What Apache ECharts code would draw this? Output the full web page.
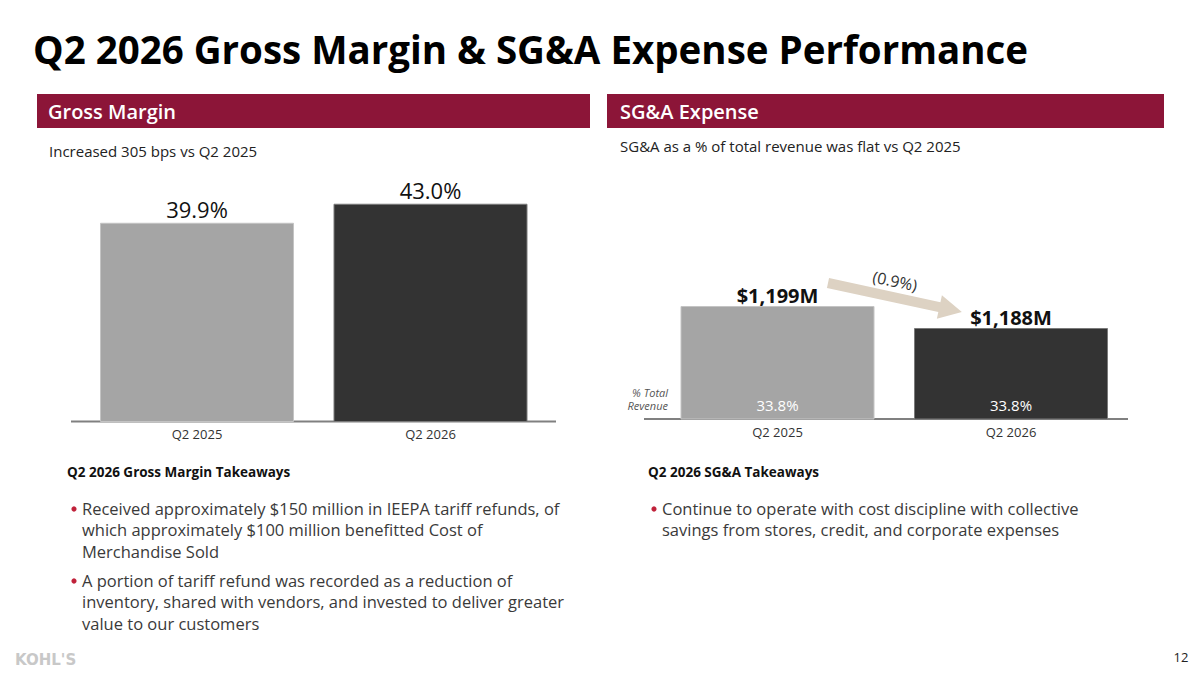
<!DOCTYPE html>
<html>
<head>
<meta charset="utf-8">
<title>Q2 2026 Gross Margin & SG&A Expense Performance</title>
<script src="https://cdn.jsdelivr.net/npm/echarts@6/dist/echarts.min.js"></script>
<style>
  html, body { margin: 0; padding: 0; background: #fff; }
  #slide { width: 1200px; height: 675px; }
</style>
</head>
<body>
<div id="slide"></div>
<script>
  // ---- data ----
  var categories = ['Q2 2025', 'Q2 2026']
  var grossMargin = [39.9, 43.0]          // % of revenue
  var sgaExpense = [1199, 1188]           // $M
  var sgaPctRevenue = [33.8, 33.8]        // % total revenue
  var sgaChange = '(0.9%)'

  var gmTakeaways = [
    ['Received approximately $150 million in IEEPA tariff refunds, of', 'which approximately $100 million benefitted Cost of', 'Merchandise Sold'],
    ['A portion of tariff refund was recorded as a reduction of', 'inventory, shared with vendors, and invested to deliver greater', 'value to our customers']
  ]
  var sgaTakeaways = [
    ['Continue to operate with cost discipline with collective', 'savings from stores, credit, and corporate expenses']
  ]

  // ---- styles ----
  var FONT = '"Open Sans", "Noto Sans", sans-serif'
  var MAROON = '#8c1538'
  var barFill = ['#a5a5a5', '#333333']
  var barEdge = ['#c4c4c4', '#7a7a7a']
  var textDark = '#333333'

  function barItems (values) {
    return values.map(function (v, i) {
      return { value: v, itemStyle: { color: barFill[i], borderColor: barEdge[i], borderWidth: 1 } }
    })
  }

  function txt (x, y, text, style) {
    return {
      type: 'text', x: x, y: y, silent: true,
      style: Object.assign({ text: text, fontFamily: FONT, fill: textDark, verticalAlign: 'middle' }, style)
    }
  }

  function bulletBlock (x, y, paras) {
    var els = []
    var cy = y
    paras.forEach(function (lines) {
      els.push({ type: 'circle', silent: true, shape: { cx: x + 2, cy: cy + 1, r: 2.6 }, style: { fill: '#c0213a' } })
      lines.forEach(function (line) {
        els.push(txt(x + 10, cy, line, { fontSize: 16.5, fill: '#3a3a3a' }))
        cy += 21.5
      })
      cy += 7.5
    })
    return els
  }

  // arrow pointing from the 2025 bar label toward the 2026 bar label
  var arrow = {
    type: 'group', x: 828, y: 283, rotation: -0.213, silent: true,
    children: [
      {
        type: 'polygon',
        shape: { points: [[0, -5], [114, -5], [114, -12], [137, 0], [114, 12], [114, 5], [0, 5]] },
        style: { fill: '#ddd2c3' }
      }
    ]
  }

  var graphics = [
    txt(33, 49, 'Q2 2026 Gross Margin & SG&A Expense Performance', { fontSize: 38.5, fontWeight: 'bold', fill: '#000' }),
    { type: 'rect', shape: { x: 37, y: 94, width: 553, height: 34 }, style: { fill: MAROON }, silent: true },
    { type: 'rect', shape: { x: 607, y: 94, width: 557, height: 34 }, style: { fill: MAROON }, silent: true },
    txt(48, 111, 'Gross Margin', { fontSize: 20, fontWeight: 600, fill: '#fff' }),
    txt(620, 111, 'SG&A Expense', { fontSize: 20, fontWeight: 600, fill: '#fff' }),
    txt(49, 151, 'Increased 305 bps vs Q2 2025', { fontSize: 15, fill: '#222' }),
    txt(620, 146, 'SG&A as a % of total revenue was flat vs Q2 2025', { fontSize: 15, fill: '#222' }),
    // baselines
    { type: 'line', shape: { x1: 71, y1: 421.5, x2: 556, y2: 421.5 }, style: { stroke: '#808080', lineWidth: 2 }, silent: true },
    { type: 'line', shape: { x1: 644, y1: 419, x2: 1128, y2: 419 }, style: { stroke: '#808080', lineWidth: 2 }, silent: true },
    txt(668, 399, '% Total\nRevenue', { fontSize: 11, lineHeight: 13, fontStyle: 'italic', fill: '#555', align: 'right' }),
    arrow,
    {
      type: 'text', x: 895, y: 281, rotation: -0.21, silent: true,
      style: { text: sgaChange, fontFamily: FONT, fontSize: 16, fill: textDark, align: 'center', verticalAlign: 'middle' }
    },
    txt(67, 472, 'Q2 2026 Gross Margin Takeaways', { fontSize: 13.5, fontWeight: 'bold', fill: '#111' }),
    txt(648, 472, 'Q2 2026 SG&A Takeaways', { fontSize: 13.5, fontWeight: 'bold', fill: '#111' }),
    txt(15, 660, "KOHL'S", { fontSize: 15, fontWeight: 'bold', fontFamily: '"DejaVu Sans", sans-serif', fill: '#c8c8c8' }),
    txt(1181, 657, '12', { fontSize: 13, fill: '#222', align: 'center' })
  ].concat(bulletBlock(72, 508, gmTakeaways), bulletBlock(652, 508, sgaTakeaways))

  var option = {
    animation: false,
    backgroundColor: '#fff',
    textStyle: { fontFamily: FONT },
    grid: [
      { left: 80.25, right: 1200 - 547.25, top: 170, bottom: 675 - 421.5 },
      { left: 660.75, right: 1200 - 1127.75, top: 259, bottom: 675 - 419 }
    ],
    xAxis: [
      {
        type: 'category', gridIndex: 0, data: categories,
        axisLine: { show: false }, axisTick: { show: false },
        axisLabel: { color: textDark, fontSize: 13, margin: 6 }
      },
      {
        type: 'category', gridIndex: 1, data: categories,
        axisLine: { show: false }, axisTick: { show: false },
        axisLabel: { color: textDark, fontSize: 13, margin: 6 }
      }
    ],
    yAxis: [
      { type: 'value', gridIndex: 0, min: 7.5, max: 48.5, show: false },
      { type: 'value', gridIndex: 1, min: 1142.5, max: 1222.5, show: false }
    ],
    series: [
      {
        name: 'Gross Margin', type: 'bar', xAxisIndex: 0, yAxisIndex: 0,
        barWidth: 194,
        data: barItems(grossMargin),
        label: {
          show: true, position: 'top', distance: 3,
          color: '#111', fontSize: 22, fontWeight: 500,
          formatter: function (p) { return p.value.toFixed(1) + '%' }
        }
      },
      {
        name: 'SG&A Expense', type: 'bar', xAxisIndex: 1, yAxisIndex: 1,
        barWidth: 194,
        data: barItems(sgaExpense),
        label: {
          show: true, position: 'top', distance: 1,
          color: '#111', fontSize: 20, fontWeight: 'bold',
          formatter: function (p) { return '$' + p.value.toLocaleString('en-US') + 'M' }
        }
      },
      {
        name: '% Total Revenue', type: 'bar', xAxisIndex: 1, yAxisIndex: 1,
        barWidth: 194, barGap: '-100%', silent: true,
        data: sgaExpense,
        itemStyle: { color: 'rgba(0,0,0,0)' },
        label: {
          show: true, position: 'insideBottom', distance: 7,
          color: '#fff', fontSize: 15,
          formatter: function (p) { return sgaPctRevenue[p.dataIndex].toFixed(1) + '%' }
        }
      }
    ],
    graphic: graphics
  }

  var chart = echarts.init(document.getElementById('slide'), null, { renderer: 'svg' })
  chart.setOption(option)
</script>
</body>
</html>
